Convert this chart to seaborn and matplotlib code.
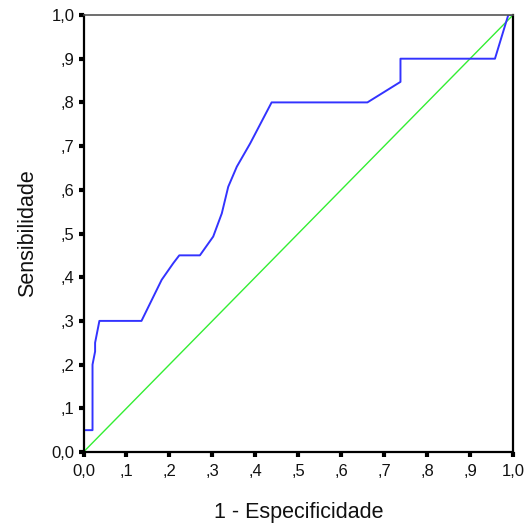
import matplotlib
matplotlib.use("Agg")
import matplotlib.pyplot as plt
import seaborn as sns
import pandas as pd

# ROC curve data
fpr = [0, 0, 0.021, 0.021, 0.027, 0.027, 0.037, 0.135, 0.155, 0.182, 0.209, 0.223,
       0.271, 0.302, 0.322, 0.337, 0.357, 0.388, 0.438, 0.661, 0.738, 0.738, 0.958,
       0.989, 1.0]
tpr = [0, 0.05, 0.05, 0.20, 0.23, 0.25, 0.30, 0.30, 0.34, 0.394, 0.432, 0.45,
       0.45, 0.493, 0.546, 0.607, 0.653, 0.706, 0.80, 0.80, 0.847, 0.90, 0.90,
       1.0, 1.0]
ref_x = [0, 1]
ref_y = [0, 1]
tick_vals = [0, 0.1, 0.2, 0.3, 0.4, 0.5, 0.6, 0.7, 0.8, 0.9, 1.0]
tick_labels = ["0,0", ",1", ",2", ",3", ",4", ",5", ",6", ",7", ",8", ",9", "1,0"]

sns.set_style("white")
plt.rcParams['font.family'] = ['Liberation Sans', 'DejaVu Sans']

fig = plt.figure(figsize=(5.27, 5.27), dpi=100)
ax = fig.add_axes([83.5 / 527, 1 - 452 / 527, (513 - 83.5) / 527, (452 - 15) / 527])

df_roc = pd.DataFrame({"x": fpr, "y": tpr})
df_ref = pd.DataFrame({"x": ref_x, "y": ref_y})
sns.lineplot(data=df_ref, x="x", y="y", sort=False, estimator=None, ax=ax,
             color="#33ee33", linewidth=1.0)
sns.lineplot(data=df_roc, x="x", y="y", sort=False, estimator=None, ax=ax,
             color="#3333ff", linewidth=1.4)

ax.set_xlim(0, 1)
ax.set_ylim(0, 1)
ax.set_xticks(tick_vals)
ax.set_xticklabels(tick_labels)
ax.set_yticks(tick_vals)
ax.set_yticklabels(tick_labels)
ax.tick_params(axis="both", direction="out", length=3.5, width=3, color="black",
               labelsize=12, labelcolor="#111111", pad=5)
ax.tick_params(axis="x", bottom=True, pad=5)
ax.tick_params(axis="y", left=True, pad=3)
for side in ["left", "bottom", "right"]:
    ax.spines[side].set_color("black")
    ax.spines[side].set_linewidth(1.6)
ax.spines["top"].set_color("#555555")
ax.spines["top"].set_linewidth(1.2)

ax.set_xlabel("1 - Especificidade", fontsize=15.5, color="#111111", labelpad=17)
ax.set_ylabel("Sensibilidade", fontsize=15.5, color="#111111", labelpad=10)

fig.savefig("out.png", dpi=100, facecolor="white")
